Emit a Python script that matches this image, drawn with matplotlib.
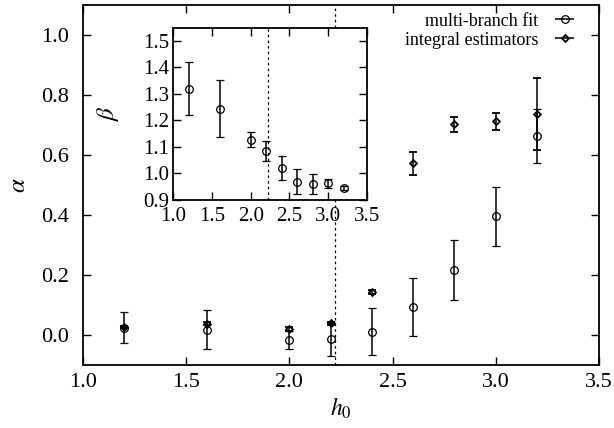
import numpy as np
import matplotlib
matplotlib.use('Agg')
import matplotlib.pyplot as plt

plt.rcParams['font.family'] = ['Liberation Serif', 'DejaVu Serif']
plt.rcParams['mathtext.fontset'] = 'stix'
plt.rcParams['axes.linewidth'] = 1.3

# main panel: alpha vs h0
h0 = [1.2, 1.6, 2.0, 2.2, 2.4, 2.6, 2.8, 3.0, 3.2]
alpha_fit = [0.023, 0.016, -0.019, -0.016, 0.010, 0.093, 0.215, 0.395, 0.662]
alpha_fit_err = [0.052, 0.065, 0.030, 0.055, 0.079, 0.096, 0.100, 0.098, 0.090]
alpha_int = [0.025, 0.036, 0.019, 0.039, 0.142, 0.572, 0.702, 0.712, 0.738]
alpha_int_err = [0.004, 0.005, 0.007, 0.005, 0.006, 0.039, 0.026, 0.028, 0.120]

# inset: beta vs h0
beta = [1.319, 1.244, 1.128, 1.084, 1.021, 0.969, 0.960, 0.963, 0.945]
beta_err = [0.100, 0.107, 0.029, 0.038, 0.046, 0.048, 0.037, 0.018, 0.008]

h0_crit = 2.22

fig = plt.figure(figsize=(6.14, 4.28), dpi=100)
ax = fig.add_axes([0.135, 0.148, 0.8405, 0.840])

ebkw = dict(ecolor='k', elinewidth=1.1, capsize=3, capthick=1.1, linestyle='none')
ax.errorbar(h0, alpha_fit, yerr=alpha_fit_err, fmt='o', ms=5.5, mfc='none',
            mec='k', mew=0.9, **ebkw)
ax.errorbar(h0, alpha_int, yerr=alpha_int_err, fmt='D', ms=3.5, mfc='none',
            mec='k', mew=1.3, **ebkw)
ax.axvline(h0_crit, color='k', lw=0.9, ls=(0, (2, 2.5)))

ax.set_xlim(1.0, 3.5)
ax.set_ylim(-0.1, 1.1)
ax.set_xticks(np.arange(1.0, 3.51, 0.5))
ax.set_yticks(np.arange(0.0, 1.01, 0.2))
ax.xaxis.set_major_formatter(matplotlib.ticker.FormatStrFormatter('%.1f'))
ax.yaxis.set_major_formatter(matplotlib.ticker.FormatStrFormatter('%.1f'))
ax.tick_params(direction='in', top=True, right=True, length=6, width=1.0,
               labelsize=16)
ax.tick_params(axis='y', pad=10)
ax.tick_params(axis='x', pad=6)
ax.set_xlabel(r'$h_0$', fontsize=17, labelpad=3)
ax.set_ylabel(r'$\alpha$', fontsize=18, labelpad=8)

# legend proxies drawn as horizontal bars like gnuplot keys
p1 = ax.errorbar([], [], xerr=[], fmt='o', ms=5.5, mfc='none', mec='k', mew=0.9, **ebkw)
p2 = ax.errorbar([], [], xerr=[], fmt='D', ms=3.5, mfc='none', mec='k', mew=1.3, **ebkw)
leg = ax.legend([p1, p2], ['multi-branch fit', 'integral estimators'],
                loc='upper right', bbox_to_anchor=(0.970, 0.999),
                frameon=False, markerfirst=False,
                fontsize=13, handlelength=1.3, handletextpad=0.8,
                labelspacing=0.1, borderaxespad=0.0)
for vp in leg._legend_handle_box.get_children():
    vp.align = 'right'

# inset
axi = fig.add_axes([0.2823, 0.5327, 0.315, 0.4026])
axi.errorbar(h0, beta, yerr=beta_err, fmt='o', ms=5.5, mfc='none',
             mec='k', mew=0.9, **ebkw)
axi.axvline(h0_crit, color='k', lw=0.9, ls=(0, (2, 2.5)))
axi.set_xlim(1.0, 3.5)
axi.set_ylim(0.9, 1.55)
axi.set_xticks(np.arange(1.0, 3.51, 0.5))
axi.set_yticks(np.arange(0.9, 1.51, 0.1))
axi.xaxis.set_major_formatter(matplotlib.ticker.FormatStrFormatter('%.1f'))
axi.yaxis.set_major_formatter(matplotlib.ticker.FormatStrFormatter('%.1f'))
axi.tick_params(direction='in', top=True, right=True, length=6, width=1.0,
                labelsize=15)
axi.tick_params(axis='x', pad=5)
axi.tick_params(axis='y', pad=3)
axi.set_ylabel(r'$\beta$', fontsize=18, labelpad=16)

fig.savefig('out.png', dpi=100)
